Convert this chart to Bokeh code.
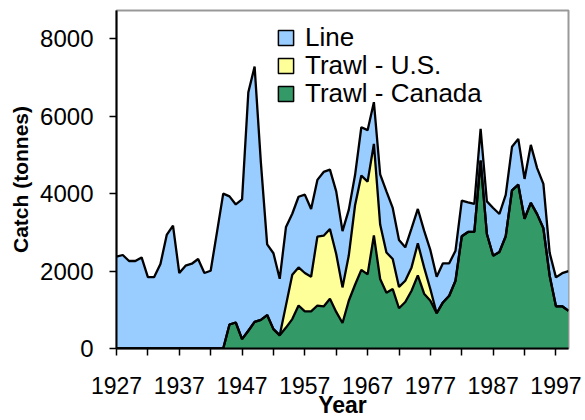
from bokeh.plotting import figure
from bokeh.models import ColumnDataSource, FixedTicker, Legend, LegendItem, Range1d
from bokeh.transform import stack
from bokeh.embed import file_html
from bokeh.resources import INLINE

years = list(range(1927, 2000))

line_catch = [2371, 2415, 2260, 2260, 2353, 1846, 1846, 2182, 2932, 3173,
              1950, 2139, 2190, 2311, 1950, 2009, 3000, 4000,
              3310, 3048, 3607, 6162, 6590, 4059, 1827, 1959, 1460, 2020,
              1574, 1825, 2025, 1751, 1466, 1646, 1533, 1619, 1452, 1180,
              780, 1250, 1330, 1076, 1300, 1580, 1318, 1210, 861, 1005,
              889, 949, 1010, 945, 1010, 837, 776, 920, 766, 723,
              819, 842, 1233, 980, 1070, 1123, 1184, 1030, 1500, 1190,
              1146, 590, 747, 855, 1025]

trawl_us = [0] * 27 + [580, 1146, 985, 993, 897, 1779, 1828, 1802, 1496, 918,
                       1167, 2053, 2436, 2395, 2366, 1405, 1040, 776, 550, 551,
                       603, 825, 680, 297] + [0] * 22

trawl_canada = [0] * 18 + [620, 672, 243, 458, 690, 741, 863, 501, 340, 540,
                           760, 1110, 957, 957, 1110, 1086, 1285, 945, 660, 1233,
                           1647, 2030, 1915, 2920, 1795, 1440, 1536, 1040, 1200, 1492,
                           1890, 1415, 1233, 910, 1190, 1363, 1751, 2900, 3010, 3010,
                           4854, 2958, 2397, 2495, 2900, 4087, 4230, 3350, 3760, 3470,
                           3105, 1880, 1090, 1090, 975]

x_tick_years = [1927, 1937, 1947, 1957, 1967, 1977, 1987, 1997]
x_minor_years = [1932, 1942, 1952, 1962, 1972, 1982, 1992]
y_ticks = [0, 2000, 4000, 6000, 8000]
series_names = ["Line", "Trawl - U.S.", "Trawl - Canada"]
colors = {"line": "#99CCFF", "us": "#FFFF99", "canada": "#339966"}

source = ColumnDataSource(dict(year=years, canada=trawl_canada, us=trawl_us, line=line_catch))

FONT = "Liberation Sans"

p = figure(width=585, height=420, output_backend="svg", toolbar_location=None,
           x_range=Range1d(1927, 1999), y_range=Range1d(0, 8730),
           min_border_left=116, min_border_right=17, min_border_top=10, min_border_bottom=72)
p.background_fill_color = "white"
p.border_fill_color = "white"
p.outline_line_color = "#999999"
p.outline_line_width = 2
p.xgrid.visible = False
p.ygrid.visible = False

p.varea_stack(["canada", "us", "line"], x="year", source=source,
              color=[colors["canada"], colors["us"], colors["line"]])

p.line("year", stack("canada"), source=source, line_color="black", line_width=2.3)
p.line("year", stack("canada", "us"), source=source, line_color="black", line_width=2.3)
p.line("year", stack("canada", "us", "line"), source=source, line_color="black", line_width=2.3)

# legend proxies (kept outside the visible x range)
proxy = ColumnDataSource(dict(left=[1900], right=[1901], top=[1], bottom=[0]))
proxies = []
for key in ("line", "us", "canada"):
    proxies.append(p.quad(left="left", right="right", top="top", bottom="bottom", source=proxy,
                          fill_color=colors[key], line_color="black", line_width=1.5))

legend_y = [295, 267, 239]
for name, rend, ly in zip(series_names, proxies, legend_y):
    lg = Legend(items=[LegendItem(label=name, renderers=[rend])],
                location=(160, ly), padding=0, margin=0, spacing=0,
                glyph_width=19, glyph_height=19, label_standoff=10,
                label_text_font=FONT, label_text_font_size="26px",
                label_text_color="black",
                border_line_alpha=0, background_fill_alpha=0)
    p.add_layout(lg)

# axes
xa = p.xaxis[0]
xa.ticker = FixedTicker(ticks=x_tick_years, minor_ticks=x_minor_years)
xa.axis_label = "Year"
ya = p.yaxis[0]
ya.ticker = FixedTicker(ticks=y_ticks, minor_ticks=[])
ya.axis_label = "Catch (tonnes)"

for ax in (xa, ya):
    ax.axis_line_color = "black"
    ax.axis_line_width = 2
    ax.major_tick_line_color = "black"
    ax.major_tick_line_width = 1.5
    ax.major_tick_in = 0
    ax.major_tick_out = 7
    ax.minor_tick_line_color = "black"
    ax.minor_tick_line_width = 1.5
    ax.minor_tick_in = 0
    ax.minor_tick_out = 7
    ax.major_label_text_font = FONT
    ax.major_label_text_font_size = "23px"
    ax.major_label_text_color = "black"
    ax.axis_label_text_font = FONT
    ax.axis_label_text_font_style = "bold"
    ax.axis_label_text_color = "black"

xa.axis_label_text_font_size = "23px"
ya.axis_label_text_font_size = "21px"
ya.major_label_text_font_size = "24px"
xa.major_label_standoff = 21
xa.axis_label_standoff = -5
ya.major_label_standoff = 16
ya.axis_label_standoff = 5

open("out.html", "w").write(file_html(p, INLINE))
